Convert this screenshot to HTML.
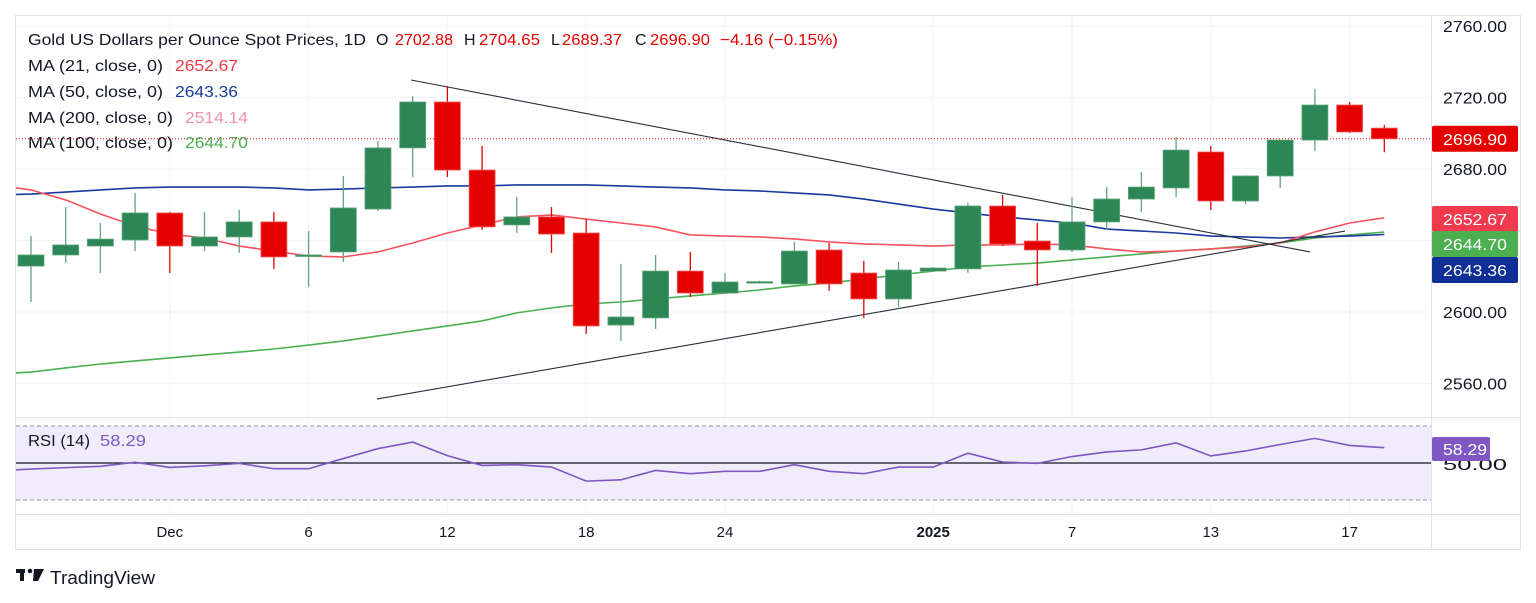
<!DOCTYPE html>
<html><head><meta charset="utf-8"><style>
html,body{margin:0;padding:0;background:#fff;}
svg{display:block;font-family:"Liberation Sans",sans-serif;}
</style></head><body>
<svg id="chart" width="1536" height="603" viewBox="0 0 1536 603" xmlns="http://www.w3.org/2000/svg">
<defs>
<clipPath id="plotClip"><rect x="16" y="15" width="1415" height="402"/></clipPath>
<clipPath id="rsiClip"><rect x="16" y="418" width="1415" height="96"/></clipPath>
</defs>
<rect x="15.5" y="15.5" width="1505" height="534" fill="none" stroke="#e0e3eb"/>
<g id="grid"></g>
<rect x="16" y="426" width="1415" height="74" fill="#f0ecf9"/>
<g id="plot" clip-path="url(#plotClip)"></g>
<g id="rsi" clip-path="url(#rsiClip)"></g>
<g id="axes"></g>
<g font-size="16">
<text x="28" y="45" fill="#131722" textLength="338" lengthAdjust="spacingAndGlyphs">Gold US Dollars per Ounce Spot Prices, 1D</text>
<text x="376" y="45" fill="#131722">O</text>
<text x="395" y="45" fill="#e50000" textLength="58" lengthAdjust="spacingAndGlyphs">2702.88</text>
<text x="464" y="45" fill="#131722">H</text>
<text x="479" y="45" fill="#e50000" textLength="61" lengthAdjust="spacingAndGlyphs">2704.65</text>
<text x="551" y="45" fill="#131722">L</text>
<text x="562" y="45" fill="#e50000" textLength="60" lengthAdjust="spacingAndGlyphs">2689.37</text>
<text x="635" y="45" fill="#131722">C</text>
<text x="650" y="45" fill="#e50000" textLength="60" lengthAdjust="spacingAndGlyphs">2696.90</text>
<text x="720" y="45" fill="#e50000" textLength="118" lengthAdjust="spacingAndGlyphs">−4.16 (−0.15%)</text>
<text x="28" y="71" fill="#131722" textLength="135" lengthAdjust="spacingAndGlyphs">MA (21, close, 0)</text>
<text x="175" y="71" fill="#f23645" textLength="63" lengthAdjust="spacingAndGlyphs">2652.67</text>
<text x="28" y="97" fill="#131722" textLength="135" lengthAdjust="spacingAndGlyphs">MA (50, close, 0)</text>
<text x="175" y="97" fill="#1a3a9e" textLength="63" lengthAdjust="spacingAndGlyphs">2643.36</text>
<text x="28" y="123" fill="#131722" textLength="145" lengthAdjust="spacingAndGlyphs">MA (200, close, 0)</text>
<text x="185" y="123" fill="#f48fa6" textLength="63" lengthAdjust="spacingAndGlyphs">2514.14</text>
<text x="28" y="148" fill="#131722" textLength="145" lengthAdjust="spacingAndGlyphs">MA (100, close, 0)</text>
<text x="185" y="148" fill="#4caf50" textLength="63" lengthAdjust="spacingAndGlyphs">2644.70</text>
<text x="28" y="446" font-size="16" fill="#131722" textLength="62" lengthAdjust="spacingAndGlyphs">RSI (14)</text>
<text x="100" y="446" font-size="16" fill="#7e57c2" textLength="46" lengthAdjust="spacingAndGlyphs">58.29</text>
</g>
<g>
<rect x="16" y="569" width="9" height="4" fill="#131722"/>
<rect x="20" y="569" width="4" height="12" fill="#131722"/>
<circle cx="30" cy="571" r="2.3" fill="#131722"/>
<polygon points="34,569 44,569 38,581 33,581" fill="#131722"/>
<text x="50" y="584" font-size="18" fill="#131722" textLength="105" lengthAdjust="spacingAndGlyphs">TradingView</text>
</g>
</svg>
<script>
const NS='http://www.w3.org/2000/svg';
const opens=[2625.7,2631.9,2636.9,2640.3,2655.4,2636.9,2642.0,2650.4,2631.3,2633.6,2657.6,2691.8,2717.5,2679.4,2648.7,2653.2,2644.2,2592.7,2596.7,2622.9,2610.6,2616.5,2615.7,2634.7,2621.8,2607.3,2622.9,2624.1,2659.3,2639.7,2634.7,2650.4,2663.2,2669.4,2689.5,2662.1,2676.1,2696.2,2715.8,2702.88];
const highs=[2642.5,2658.7,2649.8,2666.6,2656.0,2655.9,2657.1,2655.9,2645.3,2676.1,2695.7,2720.8,2726.4,2692.9,2664.3,2658.7,2652.0,2626.9,2631.9,2633.6,2621.8,2617.5,2639.2,2638.6,2628.5,2628.0,2625.2,2661.0,2665.5,2649.8,2664.3,2669.9,2678.3,2697.9,2692.9,2676.5,2696.5,2724.8,2717.5,2704.65];
const lows=[2605.6,2627.4,2621.8,2634.1,2621.8,2634.1,2633.0,2624.1,2614.0,2628.0,2656.5,2675.5,2675.5,2646.0,2644.2,2633.0,2587.7,2583.8,2590.5,2608.4,2610.0,2616.0,2615.5,2611.8,2596.7,2602.8,2622.5,2621.8,2636.9,2614.6,2633.6,2645.9,2655.9,2664.3,2657.1,2660.4,2669.4,2690.1,2700.2,2689.37];
const closes=[2631.9,2637.5,2640.8,2655.4,2636.9,2642.0,2650.4,2630.8,2631.9,2658.2,2691.8,2717.5,2679.4,2647.6,2653.2,2643.6,2592.2,2597.2,2622.9,2610.6,2616.8,2617.0,2634.1,2615.7,2607.3,2623.5,2624.6,2659.3,2638.0,2634.7,2650.4,2663.2,2669.9,2690.6,2662.1,2676.1,2696.2,2715.8,2700.7,2696.90];
// moving averages, first value is the partially hidden bar at index -1
const ma21=[2671.0,2668.3,2662.7,2654.8,2648.1,2643.6,2641.4,2636.9,2634.1,2631.3,2630.8,2633.6,2638.6,2644.2,2648.7,2653.2,2654.3,2652.0,2649.8,2647.6,2643.1,2642.5,2642.0,2640.9,2639.2,2638.1,2637.5,2636.9,2637.5,2637.5,2638.1,2637.5,2635.3,2633.6,2634.1,2635.3,2636.4,2638.6,2644.8,2649.8,2652.67];
const ma50=[2665.5,2666.0,2667.1,2668.3,2669.4,2669.9,2669.9,2669.9,2669.4,2668.3,2668.8,2669.4,2669.9,2670.5,2670.5,2671.1,2671.1,2671.1,2670.5,2669.9,2669.4,2668.3,2667.7,2666.6,2665.5,2663.2,2660.4,2657.6,2655.4,2653.2,2651.5,2649.8,2646.4,2645.3,2644.2,2642.5,2642.0,2641.4,2642.0,2642.5,2643.36];
const ma100=[2565.2,2566.4,2568.7,2570.9,2572.6,2574.3,2576.0,2577.6,2579.3,2581.5,2583.8,2586.6,2589.4,2592.2,2595.0,2599.5,2602.3,2604.5,2605.6,2607.3,2609.0,2610.6,2612.3,2614.6,2616.2,2618.5,2620.7,2622.9,2625.2,2626.3,2627.4,2629.1,2630.8,2632.5,2634.1,2635.3,2636.9,2638.6,2641.4,2643.1,2644.70];
const rsiValues=[45.8,46.7,47.5,48.2,50.4,47.6,48.5,49.8,46.9,46.9,52.4,57.8,61.3,54.0,48.7,49.1,47.8,40.2,40.9,46.0,44.2,45.5,45.5,49.1,45.5,44.2,47.8,47.8,55.3,50.5,49.8,53.5,56.0,57.1,60.9,53.8,56.5,60.0,63.3,59.5,58.29];
const priceTicks=[2760,2720,2680,2640,2600,2560];
const dateTicks=[[4,'Dec'],[8,'6'],[12,'12'],[16,'18'],[20,'24'],[26,'2025'],[30,'7'],[34,'13'],[38,'17']];
// trend lines: [startIndex, startPrice, endIndex, endPrice]
const upperTrend=[10.95,2729.8,36.86,2633.6];
const lowerTrend=[9.97,2551.3,37.87,2645.3];

const x=i=>31+34.7*i;
const y=p=>26+(2760-p)*1.7875;
const ry=v=>463-(v-50)*1.85;
function mk(tag,attrs,parent){const e=document.createElementNS(NS,tag);for(const k in attrs)e.setAttribute(k,attrs[k]);parent.appendChild(e);return e;}
const grid=document.getElementById('grid'),plot=document.getElementById('plot'),rsi=document.getElementById('rsi'),axes=document.getElementById('axes');

priceTicks.forEach(p=>{
  const l=mk('line',{x1:16,x2:1431,y1:y(p),y2:y(p),stroke:'#f0f3fa'},grid);
  
  
  if(p!==2640){const t=mk('text',{x:1443,y:y(p)+6,'font-size':16,fill:'#131722',textLength:64,lengthAdjust:'spacingAndGlyphs'},axes);t.textContent=p.toFixed(2);
  
  }
});
dateTicks.forEach(([i,lab])=>{
  const l=mk('line',{x1:x(i),x2:x(i),y1:16,y2:514,stroke:'#f0f3fa'},grid);
  
  
  const t=mk('text',{x:x(i),y:537,'font-size':15,fill:'#131722','text-anchor':'middle','font-weight':lab==='2025'?'bold':'normal'},axes);t.textContent=lab;
  
  
});
const sep=mk('line',{x1:16,x2:1520,y1:417.5,y2:417.5,stroke:'#e0e3eb'},axes);


const sep2=mk('line',{x1:16,x2:1520,y1:514.5,y2:514.5,stroke:'#e0e3eb'},axes);


const sep3=mk('line',{x1:1431.5,x2:1431.5,y1:16,y2:549,stroke:'#e0e3eb'},axes);



function maLine(arr,color,name){
  const pts=arr.map((v,k)=>x(k-1)+','+y(v)).join(' ');
  const pl=mk('polyline',{points:pts,fill:'none',stroke:color,'stroke-width':1.6},plot);
  
  
}
maLine(ma100,'#4caf50','ma100-line');
maLine(ma50,'#1a3a9e','ma50-line');
maLine(ma21,'#f7525f','ma21-line');

[[upperTrend,'upper-trendline'],[lowerTrend,'lower-trendline']].forEach(([t,n])=>{
  const l=mk('line',{x1:x(t[0]),y1:y(t[1]),x2:x(t[2]),y2:y(t[3]),stroke:'#2a2e39','stroke-width':1.1},plot);
  
  
});

const lp=mk('line',{x1:16,x2:1431,y1:y(closes[closes.length-1]),y2:y(closes[closes.length-1]),stroke:'#e50000','stroke-dasharray':'1 2'},plot);



opens.forEach((o,i)=>{
  const c=closes[i],up=c>=o,col=up?'#2d8655':'#e50000';
  const g=mk('g',{},plot);
  
  
  const w=mk('line',{x1:x(i),x2:x(i),y1:y(highs[i]),y2:y(lows[i]),stroke:up?'#5fa57c':'#e50000','stroke-width':1.3},g);
  
  
  const top=y(Math.max(o,c)),h=Math.max(1.5,Math.abs(y(o)-y(c)));
  const b=mk('rect',{x:x(i)-13,y:top,width:26,height:h,fill:col,stroke:up?'#5fa57c':'#f25c5c','stroke-width':0.8},g);
  
  
});

const mid=mk('line',{x1:16,x2:1431,y1:ry(50),y2:ry(50),stroke:'#131722','stroke-width':1.2},rsi);


[70,30].forEach(v=>{const d=mk('line',{x1:16,x2:1431,y1:ry(v),y2:ry(v),stroke:'#9598a1','stroke-dasharray':'4 3'},rsi);

});
const rl=mk('polyline',{points:rsiValues.map((v,k)=>x(k-1)+','+ry(v)).join(' '),fill:'none',stroke:'#7e57c2','stroke-width':1.6},rsi);


const r50=mk('text',{x:1443,y:ry(50)+7,'font-size':16,fill:'#131722',textLength:64,lengthAdjust:'spacingAndGlyphs'},axes);r50.textContent='50.00';



function tag(val,bg,name,yy){
  const g=mk('g',{},axes);
  
  
  mk('rect',{x:1432,y:yy-13,width:86,height:26,rx:2,fill:bg},g);
  const t=mk('text',{x:1443,y:yy+6,'font-size':16,fill:'#fff',textLength:64,lengthAdjust:'spacingAndGlyphs'},g);t.textContent=val;
}
tag(closes[closes.length-1].toFixed(2),'#e50000','last-price-label',y(closes[closes.length-1]));
tag(ma21[ma21.length-1].toFixed(2),'#f23a4e','ma21-axis-label',219);
tag(ma100[ma100.length-1].toFixed(2),'#4caf50','ma100-axis-label',244);
tag(ma50[ma50.length-1].toFixed(2),'#0f2f96','ma50-axis-label',270);
const rg=mk('g',{},axes);


mk('rect',{x:1432,y:437,width:58,height:24,rx:2,fill:'#7e57c2'},rg);
const rt=mk('text',{x:1443,y:455,'font-size':16,fill:'#fff',textLength:44,lengthAdjust:'spacingAndGlyphs'},rg);rt.textContent=rsiValues[rsiValues.length-1].toFixed(2);
</script>
</body></html>
